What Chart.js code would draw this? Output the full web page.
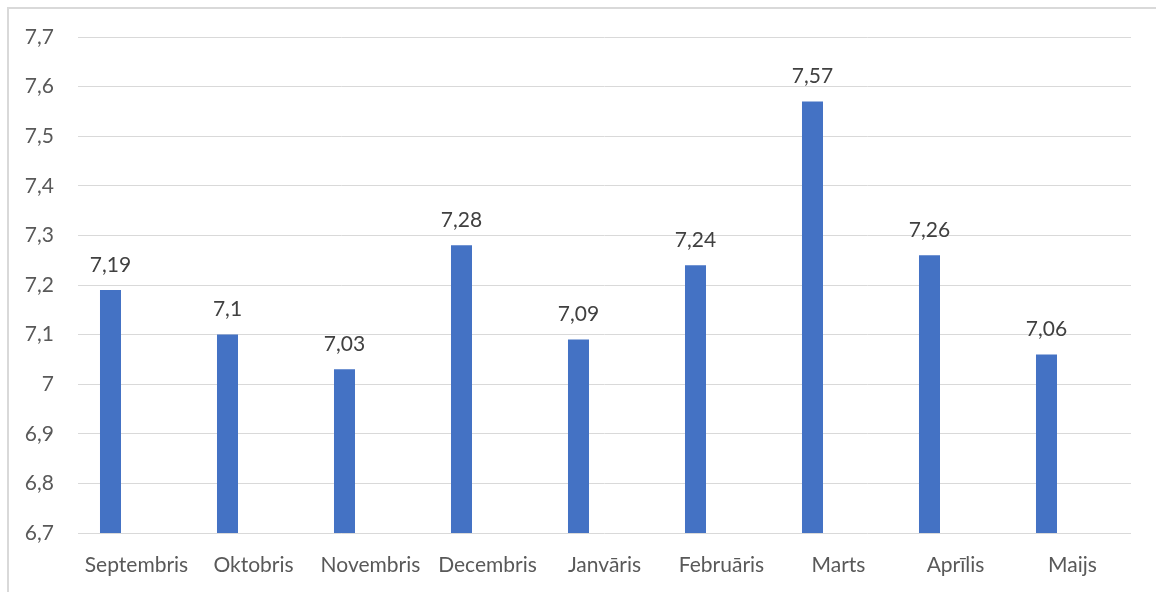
<!DOCTYPE html>
<html>
<head>
<meta charset="utf-8">
<script src="https://cdn.jsdelivr.net/npm/chart.js@4"></script>
<style>
  html, body { margin: 0; padding: 0; background: #fff; }
  #wrap { position: relative; width: 1156px; height: 592px; overflow: hidden; }
  #frame { position: absolute; left: 7px; top: 7px; width: 1160px; height: 600px;
           border-left: 2px solid #d9d9d9; border-top: 2px solid #d9d9d9; }
  canvas { position: absolute; left: 0; top: 0; }
</style>
</head>
<body>
<div id="wrap">
  <div id="frame"></div>
  <canvas id="myChart" width="1156" height="592"></canvas>
</div>
<script>
'use strict';
const months = ['Septembris', 'Oktobris', 'Novembris', 'Decembris', 'Janvāris', 'Februāris', 'Marts', 'Aprīlis', 'Maijs'];
const values = [7.19, 7.1, 7.03, 7.28, 7.09, 7.24, 7.57, 7.26, 7.06];
const yMin = 6.7;
const yMax = 7.7;
const yStep = 0.1;
const fontFamily = 'Lato, "Open Sans", sans-serif';
const textColor = '#595959';

// comma as decimal separator, like the original
function fmt(v) {
  return String(Math.round(v * 100) / 100).replace('.', ',');
}

// draws the value above each bar
const valueLabels = {
  id: 'valueLabels',
  afterDatasetsDraw(chart) {
    const ctx = chart.ctx;
    const meta = chart.getDatasetMeta(0);
    ctx.save();
    ctx.font = '21px ' + fontFamily;
    ctx.fillStyle = '#404040';
    ctx.textAlign = 'center';
    ctx.textBaseline = 'middle';
    meta.data.forEach((bar, i) => {
      ctx.fillText(fmt(values[i]), bar.x, bar.y - 25);
    });
    ctx.restore();
  }
};

let ctx = document.getElementById('myChart').getContext('2d');
let chart = new Chart(ctx, {
  type: 'bar',
  data: {
    labels: months,
    datasets: [{
      label: 'Vidējā atzīme',
      backgroundColor: '#4472c4',
      data: values,
      categoryPercentage: 0.889,
      barPercentage: 0.404
    },
    {
      // empty second series keeps the bars left of the category centre
      label: '',
      backgroundColor: '#ed7d31',
      data: [],
      categoryPercentage: 0.889,
      barPercentage: 0.404
    }]
  },
  options: {
    responsive: false,
    animation: false,
    layout: { padding: { top: 37, right: 25, bottom: 0, left: 0 } },
    plugins: {
      legend: { display: false },
      tooltip: { enabled: false }
    },
    scales: {
      x: {
        grid: { display: false, drawTicks: false },
        border: { display: false },
        ticks: { color: textColor, font: { family: fontFamily, size: 21 }, padding: 20, maxRotation: 0 },
        afterFit(scale) { scale.height = 59; }
      },
      y: {
        min: yMin,
        max: yMax,
        grid: { color: '#d9d9d9', lineWidth: 1, drawTicks: false },
        border: { display: false },
        ticks: {
          stepSize: yStep,
          color: textColor,
          font: { family: fontFamily, size: 21 },
          padding: 24,
          callback: (v) => fmt(v)
        },
        afterFit(scale) { scale.width = 78; }
      }
    }
  },
  plugins: [valueLabels]
});
</script>
</body>
</html>
